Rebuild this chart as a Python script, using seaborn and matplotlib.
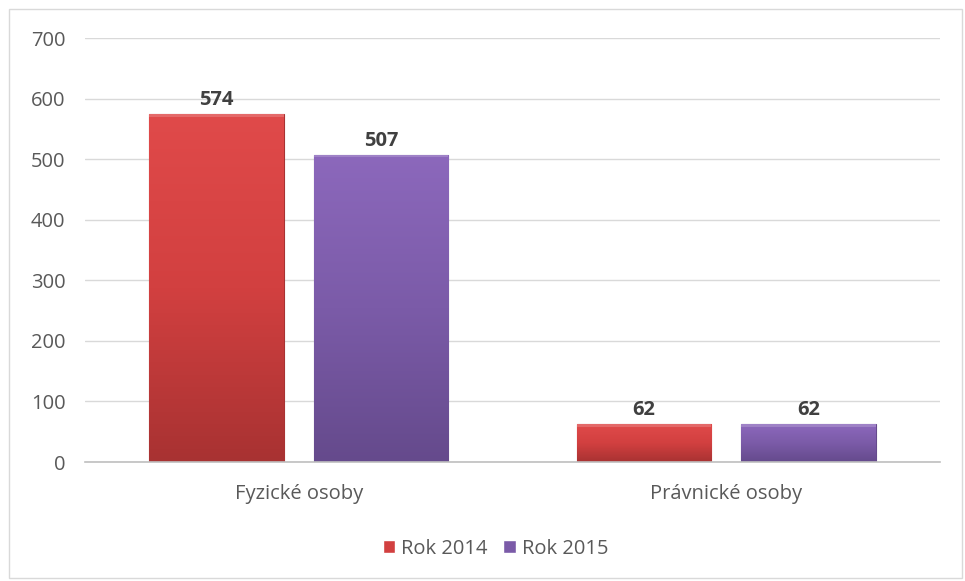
import numpy as np
import pandas as pd
import matplotlib.pyplot as plt
import seaborn as sns
from matplotlib.colors import LinearSegmentedColormap
from matplotlib.patches import Rectangle

# data
categories = ['Fyzické osoby', 'Právnické osoby']
years = ['Rok 2014', 'Rok 2015']
values_2014 = [574, 62]
values_2015 = [507, 62]

df = pd.DataFrame({
    'kategorie': categories * 2,
    'rok': [years[0]] * 2 + [years[1]] * 2,
    'pocet': values_2014 + values_2015,
})

colors = {'Rok 2014': '#D24040', 'Rok 2015': '#7B5BA8'}
grads = {
    'Rok 2014': ['#E04A4A', '#D24040', '#A83232'],
    'Rok 2015': ['#8C68BC', '#7B5BA8', '#654A8C'],
}

sns.set_style('white')
plt.rcParams['font.family'] = ['Open Sans', 'DejaVu Sans']

fig = plt.figure(figsize=(9.65, 5.81), dpi=100)
ax = fig.add_axes([85 / 965, 1 - 462 / 581, 855 / 965, 424 / 581])

sns.barplot(data=df, x='kategorie', y='pocet', hue='rok', order=categories,
            hue_order=years, palette=colors, width=0.77, gap=0.185,
            saturation=1, ax=ax, legend=True)

# gradient shading on each bar (approximation of the bevel look)
for cont, yr in zip(ax.containers, years):
    cmap = LinearSegmentedColormap.from_list(yr, grads[yr][::-1])
    for bar in cont:
        x0, y0 = bar.get_x(), bar.get_y()
        w, h = bar.get_width(), bar.get_height()
        grad = np.linspace(0, 1, 256).reshape(-1, 1)
        im = ax.imshow(grad, extent=[x0, x0 + w, y0, y0 + h], origin='lower',
                       cmap=cmap, aspect='auto', zorder=bar.get_zorder() + 0.1)
        im.set_clip_path(bar)
        bar.set_edgecolor(grads[yr][2])
        bar.set_linewidth(0.8)
        ax.add_patch(Rectangle((x0, y0 + h - 4), w, 4, facecolor='white',
                               alpha=0.18, edgecolor='none',
                               zorder=bar.get_zorder() + 0.2))
    ax.bar_label(cont, padding=3, fontsize=14.5, fontweight='bold', color='#404040',
                 zorder=5)

ax.set_xlim(-0.5, 1.5)
ax.set_ylim(0, 700)
ax.set_yticks(range(0, 701, 100))
ax.grid(axis='y', color='#D9D9D9', linewidth=1)
ax.set_axisbelow(True)
for s in ['top', 'right', 'left']:
    ax.spines[s].set_visible(False)
ax.spines['bottom'].set_color('#BFBFBF')
ax.spines['bottom'].set_linewidth(1.2)
ax.set_xlabel('')
ax.set_ylabel('')
ax.tick_params(axis='both', length=0, labelsize=14.5, labelcolor='#595959')
ax.tick_params(axis='x', pad=16)
ax.tick_params(axis='y', pad=14)

handles, labels = ax.get_legend_handles_labels()
ax.legend(handles, labels, loc='center', bbox_to_anchor=(0.48, -0.205), ncol=2,
          frameon=False, fontsize=14.5, labelcolor='#595959', handlelength=0.6,
          handleheight=0.6, handletextpad=0.3, columnspacing=0.8)

# outer chart border
fig.patches.append(Rectangle((9 / 965, 3 / 581), 953 / 965, 569 / 581,
                             transform=fig.transFigure, fill=False,
                             edgecolor='#D9D9D9', linewidth=1))

fig.savefig('out.png', dpi=100)
